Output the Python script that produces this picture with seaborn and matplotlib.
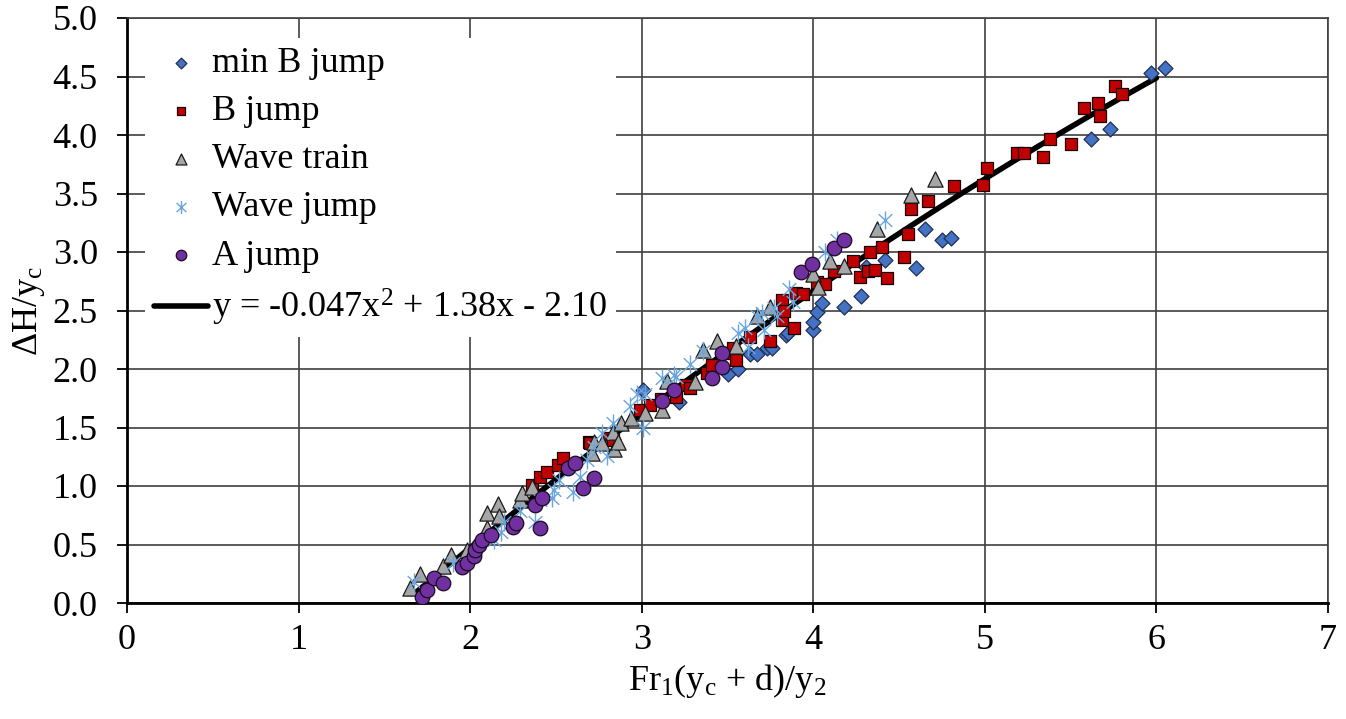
import numpy as np
import pandas as pd
import matplotlib
matplotlib.use("Agg")
import matplotlib.pyplot as plt
from matplotlib.path import Path
from matplotlib.ticker import FormatStrFormatter
import seaborn as sns

# ---------------- data ----------------
minb_x = [3.01, 3.22, 3.50, 3.56, 3.63, 3.67, 3.73, 3.76, 3.84, 3.85, 4.00, 4.00, 4.02,
          4.05, 4.18, 4.28, 4.31, 4.42, 4.60, 4.65, 4.75, 4.80, 5.62, 5.73, 5.97, 6.05]
minb_y = [1.82, 1.72, 1.96, 2.00, 2.13, 2.13, 2.18, 2.18, 2.29, 2.31, 2.33, 2.40, 2.49,
          2.56, 2.53, 2.62, 2.87, 2.93, 2.86, 3.20, 3.10, 3.12, 3.97, 4.05, 4.53, 4.57]

bj_x = [2.36, 2.41, 2.45, 2.51, 2.54, 2.69, 2.70, 2.81, 2.83, 2.99, 3.05, 3.11, 3.20, 3.26,
        3.28, 3.38, 3.41, 3.50, 3.53, 3.55, 3.63, 3.75, 3.82, 3.82, 3.83, 3.89, 3.90, 3.94,
        4.02, 4.07, 4.12, 4.23, 4.27, 4.32, 4.33, 4.36, 4.40, 4.43, 4.53, 4.55, 4.57, 4.67,
        4.82, 4.99, 5.01, 5.19, 5.23, 5.34, 5.38, 5.50, 5.58, 5.66, 5.67, 5.76, 5.80]
bj_y = [1.01, 1.08, 1.12, 1.18, 1.24, 1.38, 1.37, 1.41, 1.39, 1.65, 1.69, 1.74, 1.76, 1.86,
        1.84, 1.97, 2.03, 2.14, 2.18, 2.08, 2.27, 2.24, 2.59, 2.42, 2.50, 2.35, 2.65, 2.64,
        2.74, 2.73, 2.84, 2.92, 2.79, 2.84, 3.00, 2.85, 3.04, 2.78, 2.96, 3.15, 3.37, 3.44,
        3.56, 3.57, 3.72, 3.85, 3.85, 3.81, 3.97, 3.92, 4.23, 4.27, 4.16, 4.42, 4.35]

wt_x = [1.65, 1.71, 1.84, 1.89, 1.98, 2.10, 2.10, 2.16, 2.17, 2.29, 2.30, 2.36, 2.71, 2.72,
        2.77, 2.83, 2.84, 2.86, 2.88, 2.94, 3.02, 3.12, 3.15, 3.31, 3.36, 3.44, 3.55, 3.67,
        3.75, 4.00, 4.03, 4.10, 4.18, 4.37, 4.57, 4.71]
wt_y = [0.13, 0.25, 0.32, 0.41, 0.45, 0.64, 0.77, 0.85, 0.74, 0.88, 0.94, 0.99, 1.28, 1.38,
        1.37, 1.46, 1.32, 1.38, 1.54, 1.58, 1.62, 1.65, 1.90, 1.89, 2.16, 2.24, 2.20, 2.45,
        2.53, 2.81, 2.70, 2.92, 2.88, 3.20, 3.49, 3.62]

wj_x = [1.67, 1.90, 2.14, 2.18, 2.20, 2.29, 2.38, 2.41, 2.48, 2.49, 2.52, 2.60, 2.64, 2.68,
        2.72, 2.77, 2.80, 2.83, 2.93, 2.97, 3.01, 3.02, 3.12, 3.19, 3.20, 3.28, 3.36, 3.56,
        3.60, 3.62, 3.67, 3.70, 3.71, 3.77, 3.79, 3.86, 3.88, 4.07, 4.14, 4.42]
wj_y = [0.18, 0.34, 0.54, 0.61, 0.69, 0.79, 0.69, 0.88, 0.90, 0.97, 1.05, 0.95, 1.08, 1.22,
        1.33, 1.45, 1.26, 1.54, 1.68, 1.79, 1.50, 1.79, 1.92, 1.95, 1.93, 2.04, 2.15, 2.31,
        2.35, 2.19, 2.45, 2.48, 2.33, 2.52, 2.45, 2.68, 2.57, 3.00, 3.10, 3.27]

aj_x = [1.72, 1.75, 1.79, 1.84, 1.95, 1.98, 2.02, 2.03, 2.05, 2.07, 2.12, 2.25, 2.27, 2.38,
        2.41, 2.42, 2.57, 2.61, 2.66, 2.72, 3.12, 3.19, 3.41, 3.47, 3.47, 3.93, 3.99, 4.12, 4.18]
aj_y = [0.05, 0.11, 0.21, 0.17, 0.31, 0.34, 0.40, 0.45, 0.50, 0.54, 0.58, 0.65, 0.68, 0.84,
        0.64, 0.90, 1.15, 1.20, 0.98, 1.07, 1.73, 1.82, 1.92, 2.02, 2.14, 2.83, 2.90, 3.03, 3.10]

# trendline (as given in the legend)
fit_coef = [-0.047, 1.38, -2.10]
fit_range = [1.68, 6.0]

series_labels = ["min B jump", "B jump", "Wave train", "Wave jump", "A jump"]
fit_label = "y = -0.047x$^\\mathregular{2}$ + 1.38x - 2.10"
x_ticks = [0, 1, 2, 3, 4, 5, 6, 7]
y_ticks = [0.0, 0.5, 1.0, 1.5, 2.0, 2.5, 3.0, 3.5, 4.0, 4.5, 5.0]

# ---------------- style ----------------
sns.set_theme(style="white")
plt.rcParams["font.family"] = ["Liberation Serif", "DejaVu Serif"]
plt.rcParams["mathtext.fontset"] = "custom"
plt.rcParams["mathtext.rm"] = "Liberation Serif"
plt.rcParams["mathtext.it"] = "Liberation Serif:italic"
plt.rcParams["text.color"] = "black"
plt.rcParams["axes.labelcolor"] = "black"
plt.rcParams["xtick.color"] = "black"
plt.rcParams["ytick.color"] = "black"
FS = 26

fig = plt.figure(figsize=(13.46, 7.19), dpi=100)
ax = fig.add_axes([127 / 1346, 1 - 603 / 719, (1328 - 127) / 1346, (603 - 18) / 719])

ast = Path([(0, -1), (0, 1), (-0.75, -0.7), (0.75, 0.7), (-0.75, 0.7), (0.75, -0.7)],
           [Path.MOVETO, Path.LINETO, Path.MOVETO, Path.LINETO, Path.MOVETO, Path.LINETO])

specs = [
    (minb_x, minb_y, "D", 58, "#4472C4", "#1F3050", 0.9),
    (bj_x, bj_y, "s", 75, "#C00000", "#1a0000", 0.9),
    (wt_x, wt_y, "^", 120, "#A6A6A6", "#1a1a1a", 0.9),
    (wj_x, wj_y, ast, 170, "#6AA6DE", "#6AA6DE", 1.0),
    (aj_x, aj_y, "o", 110, "#7030A0", "#1a0a20", 0.9),
]
for (xs, ys, mk, s, fc, ec, lw), lab in zip(specs, series_labels):
    df = pd.DataFrame({"x": xs, "y": ys})
    sns.scatterplot(data=df, x="x", y="y", marker=mk, s=s, color=fc,
                    edgecolor=ec, linewidth=lw, label=lab, ax=ax, zorder=3)

xf = np.linspace(fit_range[0], fit_range[1], 200)
yf = np.polyval(fit_coef, xf)
sns.lineplot(x=xf, y=yf, color="black", linewidth=4.0, label=fit_label, ax=ax,
             zorder=2.5, sort=False)

ax.set_xlim(0, 7)
ax.set_ylim(0, 5)
ax.set_xticks(x_ticks)
ax.set_yticks(y_ticks)
ax.yaxis.set_major_formatter(FormatStrFormatter("%.1f"))
ax.grid(True, color="#404040", linewidth=1.2)
ax.set_axisbelow(True)
for side in ["top", "right"]:
    ax.spines[side].set_color("#404040")
    ax.spines[side].set_linewidth(1.2)
for side in ["left", "bottom"]:
    ax.spines[side].set_color("black")
    ax.spines[side].set_linewidth(2.0)
ax.tick_params(axis="both", which="major", direction="out", length=7, width=1.3,
               color="black", labelsize=FS, labelcolor="black", left=True, bottom=True)
ax.tick_params(axis="y", pad=14)
ax.tick_params(axis="x", pad=8)

ax.set_xlabel("Fr$_\\mathregular{1}$(y$_\\mathregular{c}$ + d)/y$_\\mathregular{2}$",
              fontsize=FS, color="black", labelpad=4)
ax.set_ylabel("\u0394H/y$_\\mathregular{c}$", fontsize=FS, color="black", labelpad=4)

leg = ax.legend(loc="upper left", bbox_to_anchor=(0.015, 0.966), borderaxespad=0,
                fontsize=FS, frameon=True, facecolor="white", edgecolor="none",
                framealpha=1, fancybox=False, handlelength=1.5, handletextpad=0.1,
                labelspacing=0.41, markerscale=0.72, borderpad=0.25)
for t in leg.get_texts():
    t.set_color("black")
leg.set_zorder(5)

fig.savefig("out.png", dpi=100)
